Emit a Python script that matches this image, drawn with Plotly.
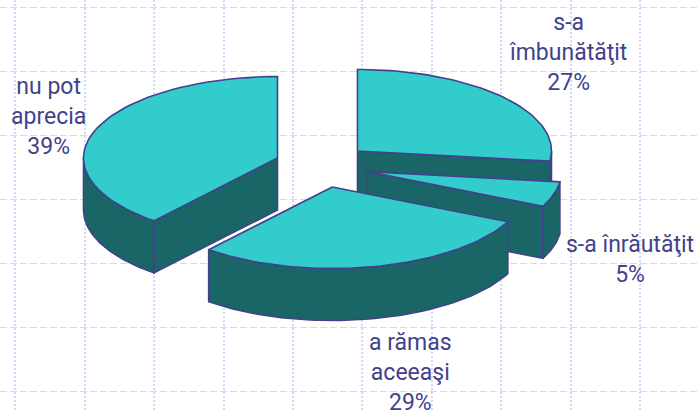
import math
import plotly.graph_objects as go

labels = ["s-a<br>îmbunătăţit", "s-a înrăutăţit", "a rămas<br>aceeaşi", "nu pot<br>aprecia"]
values = [27, 5, 29, 39]

TOP = "#33CCCC"
SIDE = "#1A6566"
EDGE = "#42428C"
GRID = "#CCDAFC"
TEXT = "#42428C"

CX, CY = 322.0, 165.5
RX, RY = 194, 81.5
DEPTH = 52
EXPLODE_X, EXPLODE_Y = 47.3, 22
LABEL_POS = [(568, 52), (630, 259), (410, 372), (48, 116)]


def arc(cx, cy, a0, a1, dy=0, n=60):
    pts = []
    for i in range(n + 1):
        t = math.radians(a0 + (a1 - a0) * i / n)
        pts.append((cx + RX * math.sin(t), cy - RY * math.cos(t) + dy))
    return pts


def poly(fig, pts, color):
    xs = [p[0] for p in pts] + [pts[0][0]]
    ys = [p[1] for p in pts] + [pts[0][1]]
    fig.add_trace(go.Scatter(x=xs, y=ys, mode="lines", fill="toself", fillcolor=color,
                             line=dict(color=EDGE, width=1.6), hoverinfo="skip", showlegend=False))


fig = go.Figure()
total = sum(values)
slices = []
start = 0.0
for lab, val in zip(labels, values):
    end = start + 360 * val / total
    mid = math.radians((start + end) / 2)
    ax = CX + EXPLODE_X * math.sin(mid)
    ay = CY - EXPLODE_Y * math.cos(mid)
    slices.append((math.cos(mid), start, end, ax, ay))
    start = end

for _, a0, a1, ax, ay in sorted(slices, key=lambda s: -s[0]):
    # radial walls facing the viewer
    for ang in (a0, a1):
        s = math.sin(math.radians(ang))
        visible = (ang == a0 and s < -1e-6) or (ang == a1 and s > 1e-6)
        if visible:
            e = arc(ax, ay, ang, ang, n=1)[0]
            poly(fig, [(ax, ay), e, (e[0], e[1] + DEPTH), (ax, ay + DEPTH)], SIDE)
    # outer rim
    w0, w1 = max(a0, 90), min(a1, 270)
    if w1 > w0:
        poly(fig, arc(ax, ay, w0, w1) + arc(ax, ay, w1, w0, dy=DEPTH), SIDE)
    # top face
    poly(fig, [(ax, ay)] + arc(ax, ay, a0, a1), TOP)

annotations = [
    dict(x=x, y=y, text=f"{lab}<br>{val}%", showarrow=False, xanchor="center", yanchor="middle",
         align="center", font=dict(family="Roboto", size=23, color=TEXT))
    for lab, val, (x, y) in zip(labels, values, LABEL_POS)
]

fig.update_layout(
    width=699, height=412, margin=dict(l=0, r=0, t=0, b=0),
    paper_bgcolor="white", plot_bgcolor="white", showlegend=False,
    annotations=annotations,
    xaxis=dict(range=[0, 699], visible=True, showticklabels=False, ticks="", zeroline=False, showline=False,
               showgrid=True, gridcolor=GRID, gridwidth=2, griddash="2px,2px", tick0=15.3, dtick=69.4,
               fixedrange=True),
    yaxis=dict(range=[412, 0], visible=True, showticklabels=False, ticks="", zeroline=False, showline=False,
               showgrid=True, gridcolor=GRID, gridwidth=1.2, griddash="7px,3px", tick0=7, dtick=64,
               fixedrange=True),
)
fig.write_html("out.html", config=dict(displayModeBar=False),
               post_script="document.body.style.margin='0';document.body.style.overflow='hidden';")
